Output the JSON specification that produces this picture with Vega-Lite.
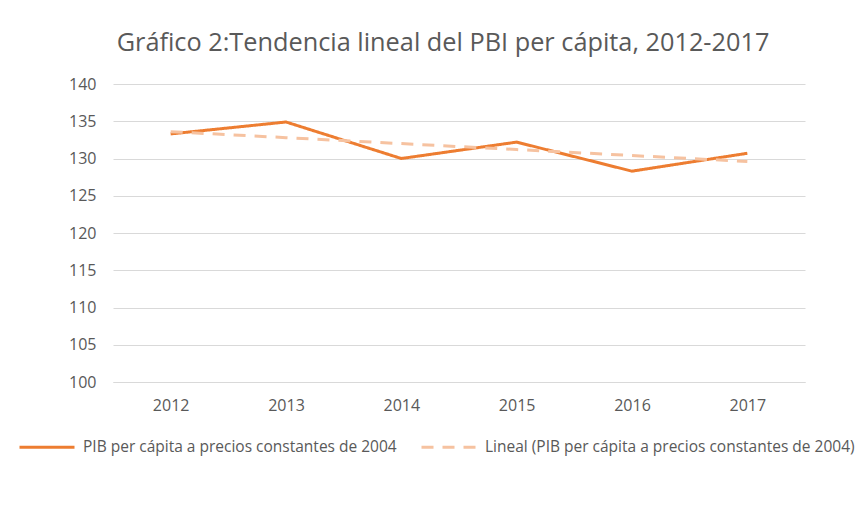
{
  "$schema": "https://vega.github.io/schema/vega-lite/v6.json",
  "width": 692,
  "height": 298,
  "autosize": {"type": "none"},
  "padding": {"left": 113, "top": 84, "right": 61, "bottom": 142},
  "background": "white",
  "config": {
    "view": {"stroke": null},
    "font": "Open Sans"
  },
  "title": {
    "text": "Gráfico 2:Tendencia lineal del PBI per cápita, 2012-2017",
    "font": "Open Sans",
    "fontSize": 25.3,
    "fontWeight": "normal",
    "color": "#595959",
    "anchor": "middle",
    "dx": -16,
    "offset": 20
  },
  "data": {
    "values": [
      {"anio": "2012", "valor": 133.3, "serie": "PIB per cápita a precios constantes de 2004"},
      {"anio": "2013", "valor": 134.9, "serie": "PIB per cápita a precios constantes de 2004"},
      {"anio": "2014", "valor": 130.0, "serie": "PIB per cápita a precios constantes de 2004"},
      {"anio": "2015", "valor": 132.2, "serie": "PIB per cápita a precios constantes de 2004"},
      {"anio": "2016", "valor": 128.3, "serie": "PIB per cápita a precios constantes de 2004"},
      {"anio": "2017", "valor": 130.7, "serie": "PIB per cápita a precios constantes de 2004"},
      {"anio": "2012", "valor": 133.6, "serie": "Lineal (PIB per cápita a precios constantes de 2004)"},
      {"anio": "2013", "valor": 132.8, "serie": "Lineal (PIB per cápita a precios constantes de 2004)"},
      {"anio": "2014", "valor": 132.0, "serie": "Lineal (PIB per cápita a precios constantes de 2004)"},
      {"anio": "2015", "valor": 131.2, "serie": "Lineal (PIB per cápita a precios constantes de 2004)"},
      {"anio": "2016", "valor": 130.4, "serie": "Lineal (PIB per cápita a precios constantes de 2004)"},
      {"anio": "2017", "valor": 129.6, "serie": "Lineal (PIB per cápita a precios constantes de 2004)"}
    ]
  },
  "mark": {"type": "line", "strokeWidth": 3, "strokeCap": "butt"},
  "encoding": {
    "x": {
      "field": "anio",
      "type": "ordinal",
      "scale": {"type": "point", "padding": 0.5},
      "axis": {
        "title": null,
        "labelAngle": 0,
        "ticks": false,
        "tickSize": 0,
        "domain": true,
        "domainColor": "#D9D9D9",
        "grid": false,
        "labelPadding": 15,
        "labelFont": "Open Sans",
        "labelFontSize": 16,
        "labelColor": "#595959"
      }
    },
    "y": {
      "field": "valor",
      "type": "quantitative",
      "scale": {"domain": [100, 140], "zero": false, "nice": false},
      "axis": {
        "title": null,
        "values": [100, 105, 110, 115, 120, 125, 130, 135, 140],
        "domain": false,
        "ticks": false,
        "tickSize": 0,
        "grid": true,
        "gridColor": "#D9D9D9",
        "gridWidth": 1,
        "labelPadding": 17,
        "labelFont": "Open Sans",
        "labelFontSize": 16,
        "labelColor": "#595959"
      }
    },
    "color": {
      "field": "serie",
      "type": "nominal",
      "scale": {
        "domain": ["PIB per cápita a precios constantes de 2004", "Lineal (PIB per cápita a precios constantes de 2004)"],
        "range": ["#ED7D31", "#F6C2A0"]
      },
      "legend": {
        "title": null,
        "orient": "none",
        "legendX": -95,
        "legendY": 334,
        "direction": "horizontal",
        "symbolType": "stroke",
        "symbolSize": 3025,
        "symbolStrokeWidth": 3,
        "labelOffset": 7,
        "columnPadding": 18,
        "labelLimit": 600,
        "labelFont": "Open Sans",
        "labelFontSize": 15.5,
        "labelColor": "#595959"
      }
    },
    "strokeDash": {
      "field": "serie",
      "type": "nominal",
      "scale": {
        "domain": ["PIB per cápita a precios constantes de 2004", "Lineal (PIB per cápita a precios constantes de 2004)"],
        "range": [[1, 0], [12, 9]]
      },
      "legend": null
    }
  }
}
